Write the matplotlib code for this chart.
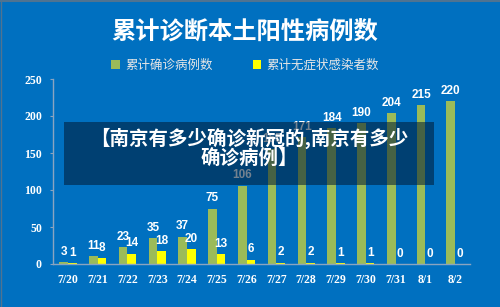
import matplotlib.pyplot as plt
import numpy as np
from matplotlib.lines import Line2D
from matplotlib.patches import Rectangle

dates = ["7/20", "7/21", "7/22", "7/23", "7/24", "7/25", "7/26",
         "7/27", "7/28", "7/29", "7/30", "7/31", "8/1", "8/2"]
confirmed = [3, 11, 23, 35, 37, 75, 106, 155, 171, 184, 190, 204, 215, 220]
asymptomatic = [1, 8, 14, 18, 20, 13, 6, 2, 2, 1, 1, 0, 0, 0]
yticks = [0, 50, 100, 150, 200, 250]

title = "累计诊断本土阳性病例数"
series_names = ["累计确诊病例数", "累计无症状感染者数"]
overlay_lines = ["【南京有多少确诊新冠的,南京有多少", "确诊病例】"]

BG = "#0070C0"
GREEN = "#9BBB59"
YELLOW = "#FFFF00"
CJK = ["Noto Sans CJK SC", "DejaVu Sans"]
NUM = ["Liberation Sans Narrow", "Liberation Sans", "DejaVu Sans"]

fig = plt.figure(figsize=(5, 3.07), dpi=100, facecolor=BG)
ax = fig.add_axes([53 / 500, 1 - 264 / 307, 417 / 500, 185 / 307])
ax.set_facecolor(BG)

x = np.arange(len(dates))
w = 0.29
b1 = ax.bar(x - w / 2, confirmed, w, color=GREEN, label=series_names[0], zorder=2)
b2 = ax.bar(x + w / 2, asymptomatic, w, color=YELLOW, label=series_names[1], zorder=2)

for bars, vals in ((b1, confirmed), (b2, asymptomatic)):
    for rect, v in zip(bars, vals):
        ax.annotate(str(v), (rect.get_x() + rect.get_width() / 2, v),
                    xytext=(0, 3), textcoords="offset points",
                    ha="center", va="bottom", color="white",
                    fontsize=8.5, fontweight="bold", family=NUM, zorder=3)

ax.set_xlim(-0.5, len(dates) - 0.5)
ax.set_ylim(0, 250)
ax.set_yticks(yticks)
ax.set_xticks(x)
ax.set_xticklabels(dates)
for lab in ax.get_xticklabels() + ax.get_yticklabels():
    lab.set_family("Liberation Serif")
    lab.set_fontweight("bold")
    lab.set_fontsize(8.5)
    lab.set_color("white")
ax.tick_params(axis="x", length=0, pad=7)
ax.tick_params(axis="y", length=2, pad=6, color="#8aa4c0")
for s in ("top", "right"):
    ax.spines[s].set_visible(False)
for s in ("left", "bottom"):
    ax.spines[s].set_color("#8aa4c0")
    ax.spines[s].set_linewidth(1)

fig.text(0.49, 1 - 33 / 307, title, ha="center", va="center",
         color="white", fontsize=17.5, fontweight="bold", family=CJK)

leg = fig.legend(handles=[b1, b2], loc="center", bbox_to_anchor=(0.49, 1 - 65 / 307),
                 ncol=2, frameon=False, handlelength=0.7, handleheight=0.7,
                 handletextpad=0.4, columnspacing=3.2,
                 prop={"family": CJK, "size": 9})
for t in leg.get_texts():
    t.set_color("#e6e6e6")

# dark caption box over the chart
fig.patches.append(Rectangle((64 / 500, 1 - 185 / 307), 370 / 500, 63 / 307,
                             transform=fig.transFigure, facecolor="#001a33",
                             alpha=0.55, edgecolor="none", zorder=5))
fig.text(0.498, 1 - 138 / 307, overlay_lines[0], ha="center", va="center",
         color="white", fontsize=14, fontweight="bold", family=CJK, zorder=6)
fig.text(0.498, 1 - 158 / 307, overlay_lines[1], ha="center", va="center",
         color="white", fontsize=14, fontweight="bold", family=CJK, zorder=6)

# thin frame on top and left edges
fig.lines.append(Line2D([0, 1], [0.997, 0.997], transform=fig.transFigure,
                        color="#4f7391", linewidth=1.5, zorder=7))
fig.lines.append(Line2D([0.001, 0.001], [0, 1], transform=fig.transFigure,
                        color="#4f7391", linewidth=1, zorder=7))

fig.savefig("out.png", dpi=100, facecolor=BG)
